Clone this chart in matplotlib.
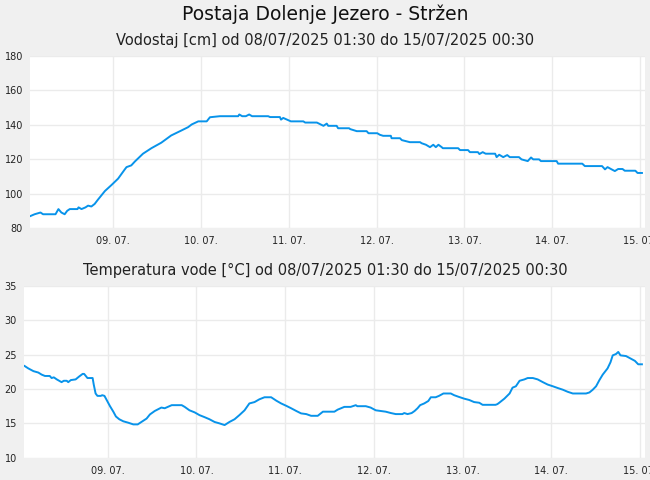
import numpy as np
import pandas as pd
import matplotlib
matplotlib.use("Agg")
import matplotlib.pyplot as plt
import matplotlib.dates as mdates

# zacetek serije: 08/07/2025 01:30, casi v urah od zacetka
start = pd.Timestamp("2025-07-08 01:30")
end = pd.Timestamp("2025-07-15 00:30")

# Vodostaj [cm]
h_level = [0, 1.1, 2.7, 3.4, 6.8, 7.6, 8.4, 9.3, 10.0, 10.7, 12.8, 13.1, 13.9, 15.0,
           15.7, 16.6, 17.5, 18.4, 20.3, 22.1, 23.9, 25.7, 26.2, 27.5, 28.5, 30.7,
           33.0, 35.7, 38.4, 41.2, 43.0, 44.0, 45.8, 48.1, 49.0, 51.7, 56.7, 57.0,
           57.8, 58.8, 59.7, 60.5, 64.9, 65.4, 68.1, 68.4, 69.0, 71.1, 74.5, 75.0,
           78.2, 80.0, 80.9, 81.3, 83.6, 84.0, 87.0, 87.3, 89.1, 91.8, 92.3, 94.7,
           95.4, 96.3, 98.4, 98.6, 100.9, 101.4, 103.6, 106.4, 106.8, 108.0, 109.1,
           110.0, 110.7, 111.4, 112.3, 112.6, 116.8, 117.3, 119.5, 120.0, 122.2,
           122.6, 123.5, 124.3, 126.9, 127.3, 128.0, 129.1, 130.2, 130.9, 133.4,
           134.1, 135.8, 136.7, 137.3, 138.9, 139.4, 143.7, 144.1, 150.7, 151.4,
           156.1, 156.9, 157.6, 158.7, 159.6, 160.5, 161.7, 162.3, 165.2, 165.8, 167.0]
level = [87, 88, 89, 88, 88, 91, 89, 88, 90, 91, 91, 92, 91, 92,
         93, 92.5, 94, 96.5, 101.5, 105, 108.7, 114, 115.4, 116.4, 118.7, 123.2,
         126.4, 129.6, 133.8, 136.7, 138.6, 140.2, 142, 142, 144.4, 145, 145, 146,
         145, 145, 146, 145, 145, 144.5, 144.5, 143, 144, 142, 142, 141.3,
         141.3, 139.4, 140.7, 139.4, 139.4, 138, 138, 137.5, 136.3, 136.3, 135.1, 135.1,
         134.2, 133.6, 133.6, 132.2, 132.2, 131.1, 129.9, 129.9, 129.3, 128.4, 127,
         128.4, 127, 128.4, 127, 126.4, 126.4, 125.3, 125.3, 124.1, 124.1,
         123, 124.1, 123.2, 123.2, 121.2, 122.6, 121.2, 122.4, 121.2, 121.2,
         119.9, 118.9, 121, 119.9, 119.9, 118.9, 118.9, 117.4, 117.4, 116,
         116, 114.1, 115.4, 114.1, 113.1, 114.3, 114.3, 113.3, 113.3, 112, 112]

# Temperatura vode [°C]
h_temp = [0, 1.0, 2.4, 3.7, 4.6, 5.5, 6.8, 7.3, 7.9, 8.7, 10.0, 10.6, 11.4, 11.8,
          12.5, 13.8, 14.7, 15.7, 16.1, 17.0, 18.4, 18.7, 19.2, 19.7, 20.6, 21.0,
          21.6, 22.2, 23.1, 24.0, 24.7, 25.6, 26.7, 28.0, 29.4, 30.6, 31.6, 33.0,
          33.9, 35.2, 37.0, 37.9, 39.8, 42.5, 43.3, 44.6, 46.0, 47.3, 48.7, 50.0,
          51.4, 52.7, 54.1, 55.4, 56.8, 58.1, 59.5, 60.8, 62.2, 63.5, 64.9, 66.7,
          68.1, 69.4, 70.8, 72.1, 73.5, 74.8, 76.2, 77.5, 79.3, 80.7, 83.8, 84.7,
          86.0, 86.5, 88.2, 89.6, 90.0, 92.3, 93.6, 95.0, 96.3, 97.7, 99.1, 100.4,
          102.2, 102.7, 103.6, 104.7, 105.5, 106.3, 107.0, 108.1, 109.2, 109.9,
          111.2, 112.1, 113.3, 115.3, 116.2, 117.5, 118.9, 120.3, 121.6, 123.0,
          123.9, 127.4, 127.9, 128.4, 129.8, 131.2, 132.0, 132.9, 133.9, 135.2,
          136.1, 137.5, 138.8, 140.2, 141.5, 142.9, 144.2, 145.6, 146.9, 148.3,
          151.9, 152.8, 153.7, 154.6, 155.5, 156.4, 157.7, 158.5, 159.1, 160.0,
          160.6, 161.2, 162.7, 164.1, 165.1, 166.0, 167.0]
temp = [23.35, 23.0, 22.6, 22.4, 22.1, 21.9, 21.9, 21.6, 21.7, 21.4, 21.0, 21.2, 21.2, 21.0,
        21.3, 21.4, 21.8, 22.2, 22.2, 21.6, 21.6, 20.65, 19.35, 19.0, 19.0, 19.1,
        19.0, 18.4, 17.5, 16.7, 16.0, 15.6, 15.3, 15.1, 14.85, 14.85, 15.2, 15.7,
        16.3, 16.8, 17.3, 17.2, 17.65, 17.65, 17.4, 16.9, 16.6, 16.2, 15.9, 15.6,
        15.2, 15.0, 14.75, 15.2, 15.6, 16.2, 16.9, 17.9, 18.1, 18.5, 18.8, 18.8,
        18.3, 17.9, 17.55, 17.2, 16.8, 16.45, 16.35, 16.1, 16.1, 16.7, 16.7, 17.0,
        17.3, 17.4, 17.4, 17.65, 17.5, 17.5, 17.3, 16.9, 16.8, 16.7, 16.5, 16.35,
        16.35, 16.5, 16.35, 16.5, 16.8, 17.2, 17.65, 17.9, 18.25, 18.8,
        18.8, 19.0, 19.35, 19.35, 19.1, 18.85, 18.6, 18.4, 18.1, 18.0,
        17.7, 17.7, 17.8, 18.0, 18.6, 19.35, 20.2, 20.4, 21.2, 21.4,
        21.6, 21.6, 21.4, 21.0, 20.65, 20.4, 20.15, 19.9, 19.6, 19.35,
        19.35, 19.5, 19.9, 20.4, 21.3, 22.1, 23.0, 23.9, 24.9, 25.1,
        25.4, 24.9, 24.8, 24.4, 24.1, 23.6, 23.6]

t_level = start + pd.to_timedelta(h_level, unit="h")
t_temp = start + pd.to_timedelta(h_temp, unit="h")

bg = "#f0f0f0"
line_col = "#0893ea"
grid_col = "#ebebeb"

fig = plt.figure(figsize=(6.5, 4.8), dpi=100, facecolor=bg)
fig.text(0.5, 0.971, "Postaja Dolenje Jezero - Stržen", ha="center", va="center",
         fontsize=13.5, color="#111111")

ax1 = fig.add_axes([30 / 650, 1 - 228 / 480, 615 / 650, 172 / 480])
ax2 = fig.add_axes([24 / 650, 1 - 457.7 / 480, 621 / 650, 171.7 / 480])

panels = [
    (ax1, t_level, level, (80, 180), 20,
     "Vodostaj [cm] od 08/07/2025 01:30 do 15/07/2025 00:30", 40),
    (ax2, t_temp, temp, (10, 35), 5,
     "Temperatura vode [°C] od 08/07/2025 01:30 do 15/07/2025 00:30", 270),
]

for ax, t, v, ylim, step, title, ty in panels:
    ax.set_facecolor("white")
    ax.plot(t, v, color=line_col, lw=1.4)
    ax.set_xlim(start - pd.Timedelta(minutes=10), end + pd.Timedelta(minutes=50))
    ax.set_ylim(*ylim)
    ax.set_yticks(np.arange(ylim[0], ylim[1] + 1, step))
    ax.xaxis.set_major_locator(mdates.DayLocator())
    ax.xaxis.set_major_formatter(mdates.DateFormatter("%d. %m."))
    ax.grid(True, color=grid_col, lw=1)
    ax.set_axisbelow(True)
    for s in ax.spines.values():
        s.set_visible(False)
    ax.tick_params(length=0, labelsize=7, colors="#222222", pad=5)
    ax.tick_params(axis="x", pad=6)
    fig.text(0.5, 1 - ty / 480, title, ha="center", va="center", fontsize=10.5,
             color="#222222")

fig.savefig("out.png", dpi=100, facecolor=bg)
